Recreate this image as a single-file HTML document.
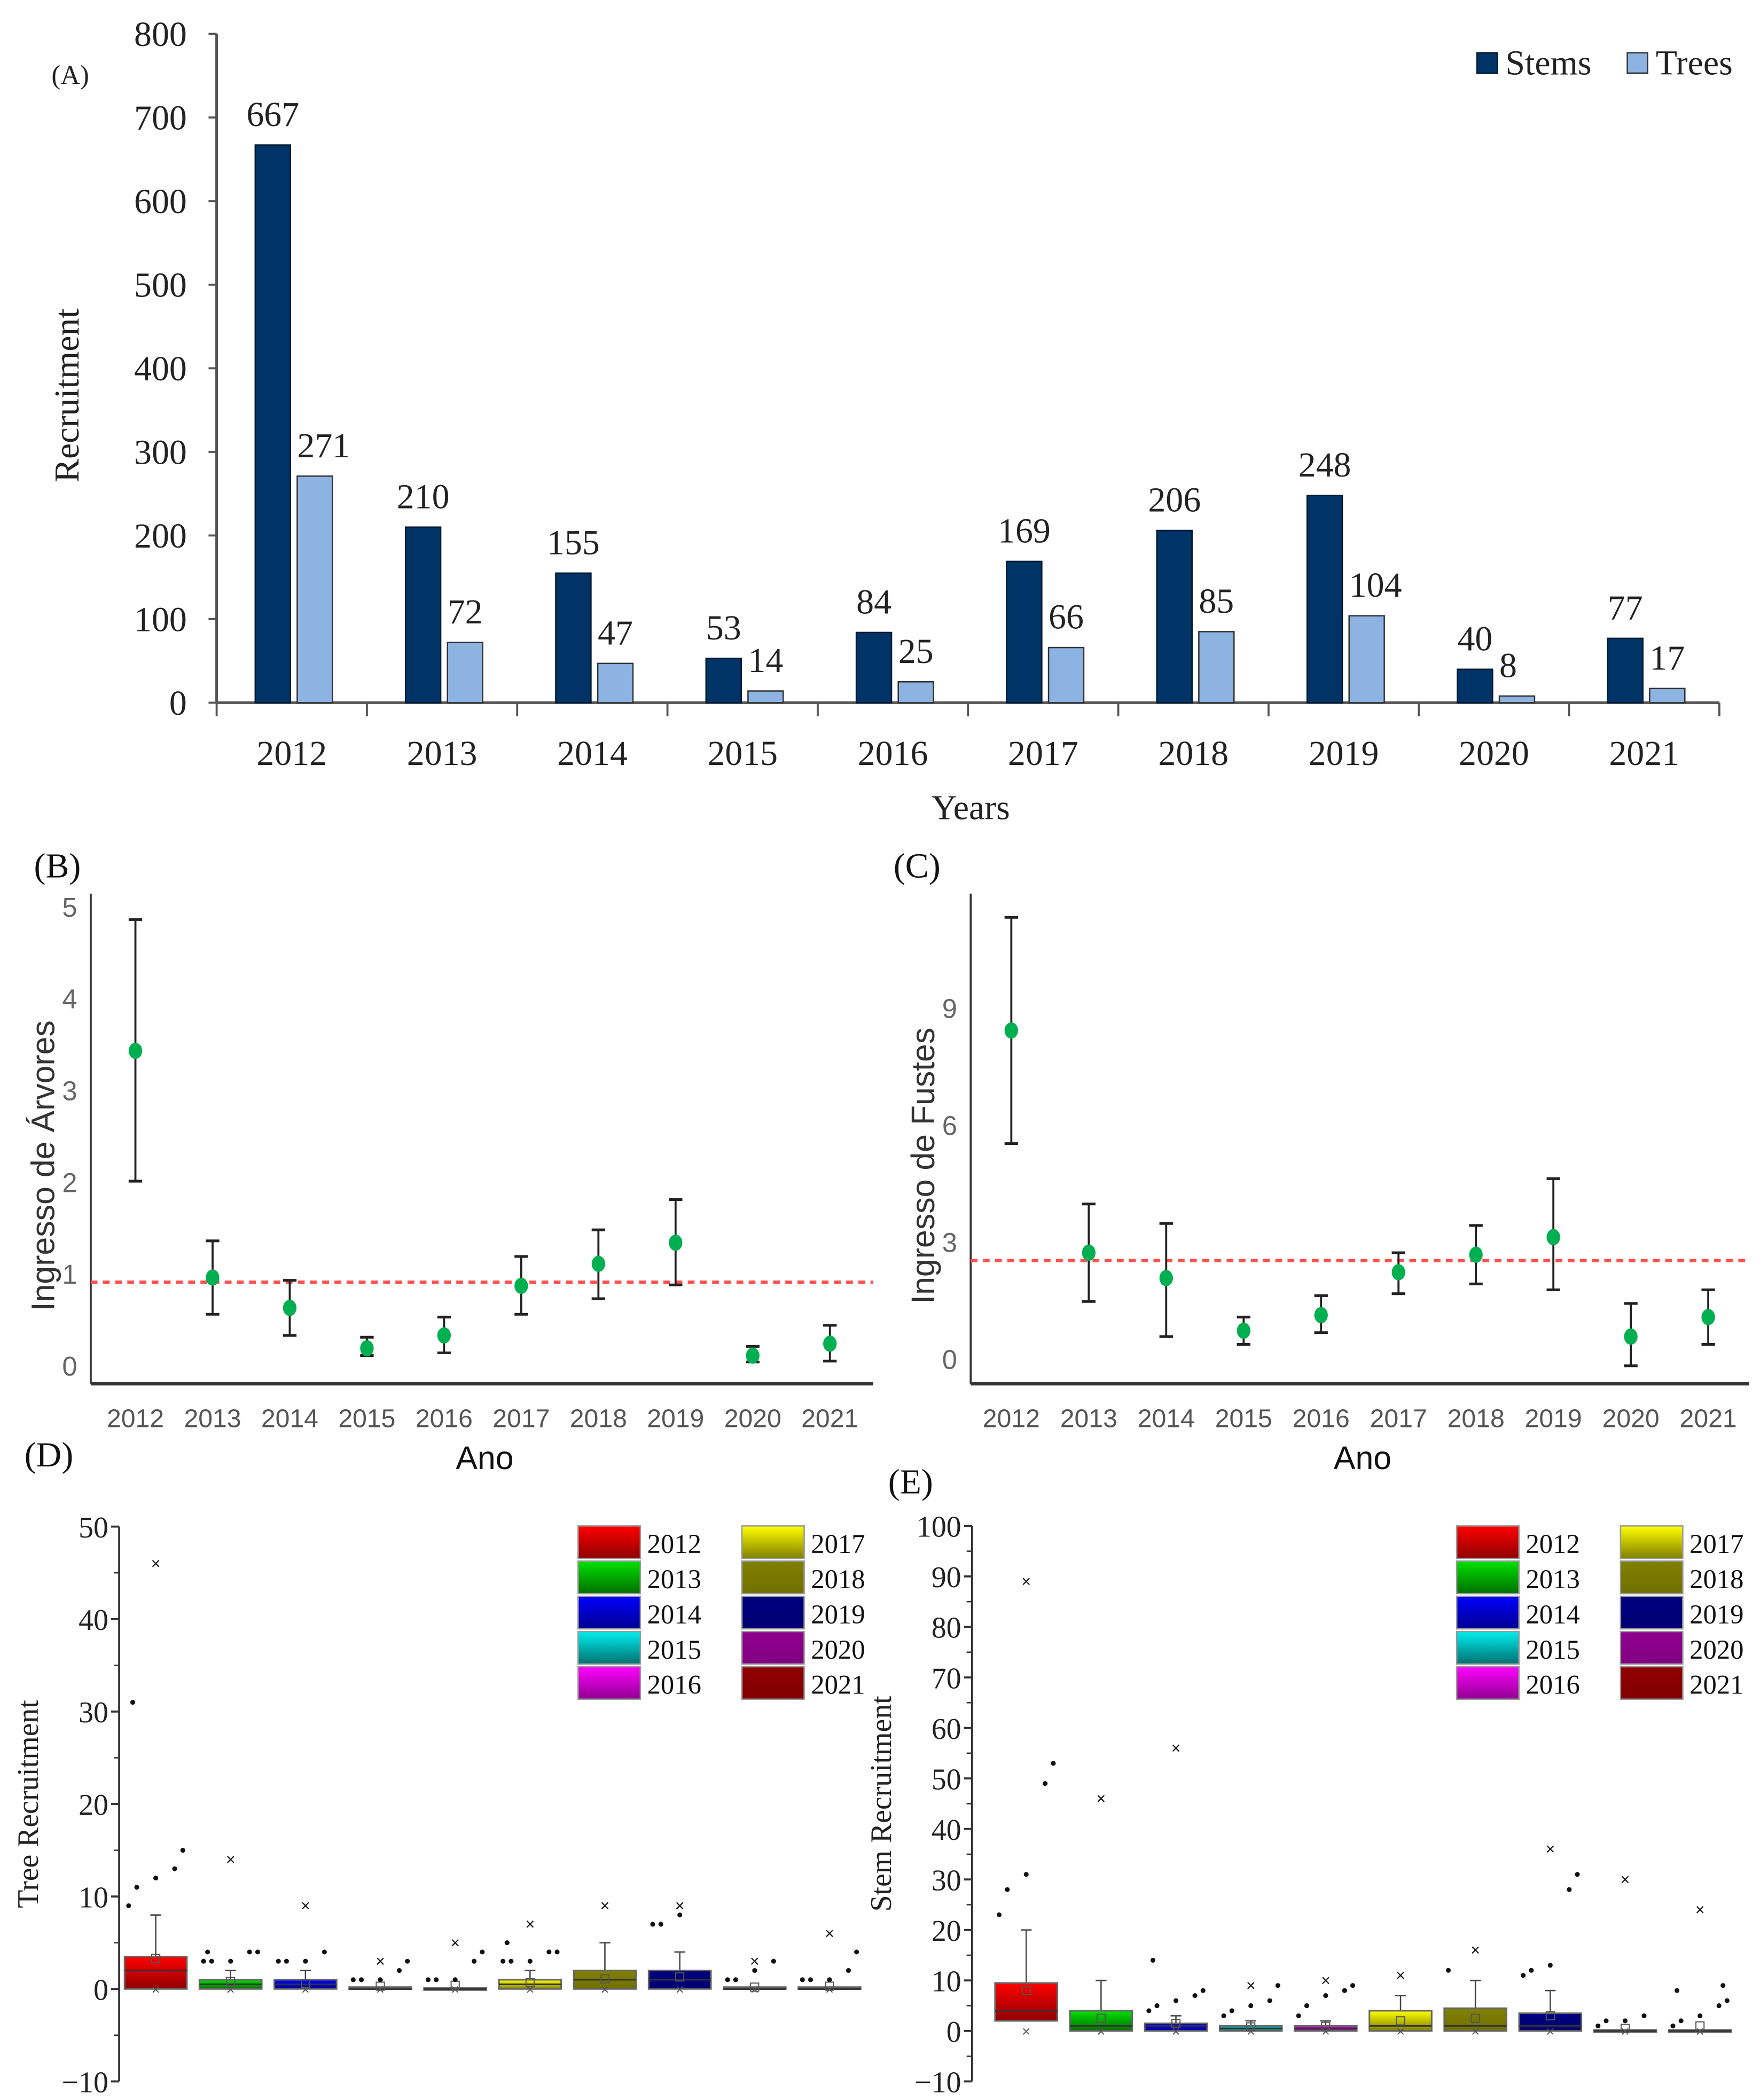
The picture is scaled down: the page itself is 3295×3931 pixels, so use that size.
<!DOCTYPE html>
<html><head><meta charset="utf-8"><style>
html,body{margin:0;padding:0;background:#fff;}
svg{display:block;}
.serif{font-family:"Liberation Serif",serif;}
.sans{font-family:"Liberation Sans",sans-serif;}
</style></head><body>
<svg id="fig" xmlns="http://www.w3.org/2000/svg" width="3295" height="3931" viewBox="0 0 1300 1551">
<defs id="defs"></defs>
<g id="pA"></g>
<g id="pB"></g>
<g id="pC"></g>
<g id="pD"></g>
<g id="pE"></g>
</svg>
<script>
const years = ["2012","2013","2014","2015","2016","2017","2018","2019","2020","2021"];
const stems = [667,210,155,53,84,169,206,248,40,77];
const trees = [271,72,47,14,25,66,85,104,8,17];
const ticksA = [0,100,200,300,400,500,600,700,800];

const meanB = [3.42,0.95,0.62,0.18,0.32,0.86,1.1,1.33,0.1,0.23];
const loB = [2.0,0.55,0.32,0.1,0.13,0.55,0.72,0.87,0.03,0.04];
const hiB = [4.85,1.35,0.92,0.3,0.52,1.18,1.47,1.8,0.2,0.43];
const refB = 0.9;
const ticksB = [0,1,2,3,4,5];

const meanC = [8.4,2.7,2.05,0.7,1.1,2.2,2.65,3.1,0.55,1.05];
const loC = [5.5,1.45,0.55,0.35,0.65,1.65,1.9,1.75,-0.2,0.35];
const hiC = [11.3,3.95,3.45,1.05,1.6,2.7,3.4,4.6,1.4,1.75];
const refC = 2.5;
const ticksC = [0,3,6,9];

const q1D = [0,0,0,0,0,0,0,0,0,0];
const medD = [2,0.5,0.5,0,0,0.5,1,1,0,0];
const q3D = [3.5,1,1,0.2,0.1,1,2,2,0.2,0.2];
const whD = [8,2,2,0,0,2,5,4,0,0];
const meanD = [3.3,0.8,0.6,0.3,0.4,0.7,1.1,1.3,0.2,0.3];
const outD = [[9,11,12,13,15,31],[3,3,3,4,4,4],[3,3,3,4],[1,1,1,2,3],[1,1,1,3,4],[3,3,3,4,4,5],[],[7,7,8],[1,1,2,3],[1,1,1,2,4]];
const maxD = [46,14,9,3,5,7,9,9,3,6];
const ticksD = [-10,0,10,20,30,40,50];

const q1E = [2,0,0,0,0,0,0,0,0,0];
const medE = [4,1,1,0.5,0.5,1,1,1,0,0];
const q3E = [9.5,4,1.5,1,1,4,4.5,3.5,0.2,0.2];
const whE = [20,10,3,2,2,7,10,8,0,0];
const meanE = [8,2.5,1.5,0.8,0.9,2,2.5,3,0.5,1];
const outE = [[23,28,31,49,53],[],[4,5,6,7,8,14],[3,4,5,6,9],[3,5,7,8,9],[],[12],[11,12,13,28,31],[1,2,2,3],[1,2,3,5,6,8,9]];
const maxE = [89,46,56,9,10,11,16,36,30,24];
const ticksE = [-10,0,10,20,30,40,50,60,70,80,90,100];

const colors = ["#ff0000","#00e000","#0000ff","#00eeee","#ff00ff","#ffff00","#808000","#000080","#900090","#900000"];
const darks = ["#900000","#007000","#000090","#007070","#900090","#808000","#707000","#000070","#800080","#800000"];

const NS="http://www.w3.org/2000/svg";
function mk(parent,tag,attrs,text){const e=document.createElementNS(NS,tag);for(const k in attrs)e.setAttribute(k,attrs[k]);if(text!==undefined)e.textContent=text;parent.appendChild(e);return e;}

const defs=document.getElementById('defs');
colors.forEach((c,i)=>{const g=mk(defs,'linearGradient',{id:'g'+i,x1:0,y1:0,x2:0,y2:1});mk(g,'stop',{offset:'0',"stop-color":c});mk(g,'stop',{offset:'1',"stop-color":darks[i]});});

// ===== Panel A =====
(function(){
const g=document.getElementById('pA');
const x0=160,x1=1270,y0=519,yTop=25,vmax=800;
const y=v=>y0-(v/vmax)*(y0-yTop);
const cw=(x1-x0)/years.length;
const cx=i=>x0+cw*(i+0.5);
const ax=mk(g,'line',{x1:x0,y1:y0,x2:x1,y2:y0,stroke:'#555','stroke-width':2});

const ay=mk(g,'line',{x1:x0,y1:yTop,x2:x0,y2:y0,stroke:'#555','stroke-width':2});

ticksA.forEach(t=>{mk(g,'line',{x1:x0-6,y1:y(t),x2:x0,y2:y(t),stroke:'#555','stroke-width':1.5});
 const tl=mk(g,'text',{x:x0-22,y:y(t)+9,'text-anchor':'end','font-size':26,class:'serif',fill:'#222'},t);
 });
for(let i=0;i<=years.length;i++)mk(g,'line',{x1:x0+cw*i,y1:y0,x2:x0+cw*i,y2:y0+10,stroke:'#555','stroke-width':1.5});
years.forEach((yr,i)=>{
 const c=cx(i);
 const b1=mk(g,'rect',{x:c-27,y:y(stems[i]),width:26,height:y0-y(stems[i]),fill:'#003366',stroke:'#001a33','stroke-width':1});
 
 const b2=mk(g,'rect',{x:c+4,y:y(trees[i]),width:26,height:y0-y(trees[i]),fill:'#8db3e2',stroke:'#333','stroke-width':1});
 
 const l1=mk(g,'text',{x:c-14,y:y(stems[i])-14,'text-anchor':'middle','font-size':26,class:'serif',fill:'#222'},stems[i]);
 
 const l2=mk(g,'text',{x:c+4,y:y(trees[i])-14,'text-anchor':'start','font-size':26,class:'serif',fill:'#222'},trees[i]);
 
 const xl=mk(g,'text',{x:c,y:565,'text-anchor':'middle','font-size':26,class:'serif',fill:'#222'},yr);
 
});
const xt=mk(g,'text',{x:717,y:605,'text-anchor':'middle','font-size':26,class:'serif',fill:'#222'},'Years');

const yt=mk(g,'text',{x:0,y:0,'text-anchor':'middle','font-size':26,class:'serif',fill:'#222',transform:'translate(58,292) rotate(-90)'},'Recruitment');

const pl=mk(g,'text',{x:38,y:62,'font-size':20,class:'serif',fill:'#222'},'(A)');

const lg=mk(g,'g',{});
mk(lg,'rect',{x:1091,y:39,width:15,height:15,fill:'#003366',stroke:'#001a33'});
const ls=mk(lg,'text',{x:1112,y:55,'font-size':26,class:'serif',fill:'#222'},'Stems');

mk(lg,'rect',{x:1202,y:39,width:15,height:15,fill:'#8db3e2',stroke:'#333'});
const lt=mk(lg,'text',{x:1223,y:55,'font-size':26,class:'serif',fill:'#222'},'Trees');

})();

// ===== Panels B, C =====
function dotPanel(gid,xAxis,yTopPx,zeroPx,unitPx,x2012,step,ticks,mean,lo,hi,ref,title,label,labX,axisEnd){
const g=document.getElementById(gid);
const yb=1022;
const y=v=>zeroPx-v*unitPx;
const cx=i=>x2012+step*i;
const ax=mk(g,'line',{x1:xAxis,y1:yb,x2:axisEnd,y2:yb,stroke:'#333','stroke-width':2.5});

const ay=mk(g,'line',{x1:xAxis,y1:yTopPx,x2:xAxis,y2:yb,stroke:'#333','stroke-width':1.5});

ticks.forEach(t=>{const tl=mk(g,'text',{x:xAxis-10,y:y(t)+8,'text-anchor':'end','font-size':20,class:'sans',fill:'#666'},t);
 });
const rl=mk(g,'line',{x1:xAxis,y1:y(ref),x2:axisEnd,y2:y(ref),stroke:'#ff5050','stroke-width':2.5,'stroke-dasharray':'5,4'});

years.forEach((yr,i)=>{
 const c=cx(i);
 const eb=mk(g,'g',{});
 mk(eb,'line',{x1:c,y1:y(lo[i]),x2:c,y2:y(hi[i]),stroke:'#222','stroke-width':1.5});
 mk(eb,'line',{x1:c-5,y1:y(lo[i]),x2:c+5,y2:y(lo[i]),stroke:'#222','stroke-width':2});
 mk(eb,'line',{x1:c-5,y1:y(hi[i]),x2:c+5,y2:y(hi[i]),stroke:'#222','stroke-width':2});
 const p=mk(g,'ellipse',{cx:c,cy:y(mean[i]),rx:5,ry:6,fill:'#00b050'});
 
 const xl=mk(g,'text',{x:c,y:1054,'text-anchor':'middle','font-size':19,class:'sans',fill:'#555'},yr);
 
});
const xt=mk(g,'text',{x:(xAxis+axisEnd)/2+2,y:1085,'text-anchor':'middle','font-size':24,class:'sans',fill:'#111'},'Ano');

const yt=mk(g,'text',{x:0,y:0,'text-anchor':'middle','font-size':24,class:'sans',fill:'#333',transform:`translate(${xAxis-27},${(yTopPx+yb)/2+20}) rotate(-90)`},title);

const pl=mk(g,'text',{x:labX,y:648,'font-size':26,class:'serif',fill:'#111'},label);

}
dotPanel('pB',67,660,1008,67.8,100,57,ticksB,meanB,loB,hiB,refB,'Ingresso de Árvores','(B)',25,645);
dotPanel('pC',717,660,1003,28.8,747,57.2,ticksC,meanC,loC,hiC,refC,'Ingresso de Fustes','(C)',660,1292);

// ===== Panels D, E =====
function boxPanel(gid,xAxis,zeroPx,per10,x2012,ticks,minor,q1,med,q3,wh,mean,outs,maxs,title,label,labX,labY,legX){
const g=document.getElementById(gid);
const y=v=>zeroPx-v/10*per10;
const cx=i=>x2012+55.3*i;
const top=ticks[ticks.length-1];
const yTopPx=y(top),yBot=y(ticks[0]);
const ay=mk(g,'line',{x1:xAxis,y1:yTopPx,x2:xAxis,y2:yBot,stroke:'#333','stroke-width':1.5});

ticks.forEach(t=>{mk(g,'line',{x1:xAxis-6,y1:y(t),x2:xAxis,y2:y(t),stroke:'#333','stroke-width':1.5});
 if(t+minor<top) mk(g,'line',{x1:xAxis-4,y1:y(t+minor),x2:xAxis,y2:y(t+minor),stroke:'#333','stroke-width':1});
 const tl=mk(g,'text',{x:xAxis-8,y:y(t)+8,'text-anchor':'end','font-size':22,class:'serif',fill:'#222'},t<0?'\u2212'+(-t):t);
 });
years.forEach((yr,i)=>{
 const c=cx(i),w=46;
 const bx=mk(g,'g',{});
 mk(bx,'line',{x1:c,y1:y(q3[i]),x2:c,y2:y(Math.max(wh[i],q3[i])),stroke:'#444','stroke-width':1});
 mk(bx,'line',{x1:c-4,y1:y(wh[i]),x2:c+4,y2:y(wh[i]),stroke:'#444','stroke-width':1});
 const h=Math.max(y(q1[i])-y(q3[i]),1.5);
 mk(bx,'rect',{x:c-w/2,y:y(q3[i]),width:w,height:h,fill:'url(#g'+i+')',stroke:'#666','stroke-width':1.2});
 mk(bx,'line',{x1:c-w/2,y1:y(med[i]),x2:c+w/2,y2:y(med[i]),stroke:'#333','stroke-width':1.2});
 mk(bx,'rect',{x:c-3,y:y(mean[i])-3,width:6,height:6,fill:'none',stroke:'#555','stroke-width':0.8});
 mk(bx,'text',{x:c,y:y(0)+4,'text-anchor':'middle','font-size':11,class:'sans',fill:'#555'},'×');
 outs[i].forEach((v,k)=>{const off=[-20,-14,0,14,20,-17,17][k%7];
  const o=mk(g,'circle',{cx:c+off,cy:y(v),r:1.8,fill:'#111'});
  });
 const mx=mk(g,'text',{x:c,y:y(maxs[i])+4,'text-anchor':'middle','font-size':12,class:'sans',fill:'#111'},'×');
 
});
const yt=mk(g,'text',{x:0,y:0,'text-anchor':'middle','font-size':22,class:'serif',fill:'#222',transform:`translate(${xAxis-60},${(yTopPx+yBot)/2}) rotate(-90)`},title);

const pl=mk(g,'text',{x:labX,y:labY,'font-size':26,class:'serif',fill:'#111'},label);

const lg=mk(g,'g',{});
years.forEach((yr,i)=>{
 const col=Math.floor(i/5),row=i%5;
 const sx=legX+col*121,sy=1127+row*26;
 mk(lg,'rect',{x:sx,y:sy,width:46,height:24,fill:'url(#g'+i+')',stroke:'#999','stroke-width':1});
 const t=mk(lg,'text',{x:sx+51,y:sy+20,'font-size':20,class:'serif',fill:'#111'},yr);
 
});
}
boxPanel('pD',88,1469,68.3,115,ticksD,5,q1D,medD,q3D,whD,meanD,outD,maxD,'Tree Recruitment','(D)',18,1083,427);
boxPanel('pE',718,1500,37.3,758,ticksE,5,q1E,medE,q3E,whE,meanE,outE,maxE,'Stem Recruitment','(E)',656,1103,1076);
</script>
</body></html>
